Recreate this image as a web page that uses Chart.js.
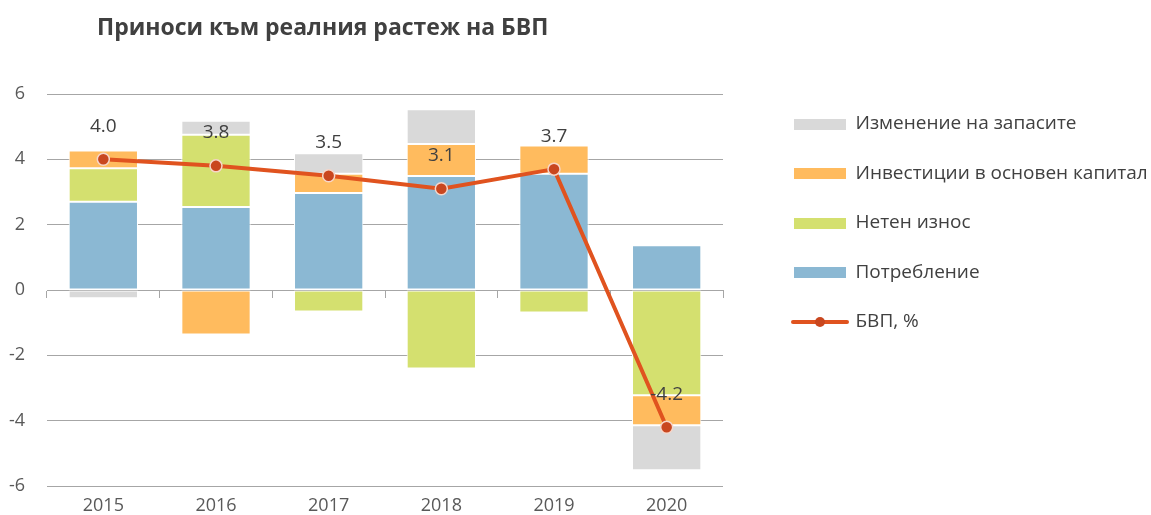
<!DOCTYPE html>
<html>
<head>
<meta charset="utf-8">
<script src="https://cdn.jsdelivr.net/npm/chart.js@4"></script>
<style>
  html, body { margin: 0; padding: 0; background: #ffffff; }
  #wrap { position: relative; width: 1151px; height: 515px; }
  #title {
    position: absolute; left: 97px; top: 10px;
    font-family: "Open Sans", sans-serif; font-weight: bold; font-size: 23px;
    line-height: 32px; color: #404040; white-space: nowrap;
  }
  canvas { position: absolute; left: 0; top: 0; }
</style>
</head>
<body>
<div id="wrap">
  <canvas id="c" width="1151" height="515"></canvas>
  <div id="title">Приноси към реалния растеж на БВП</div>
</div>
<script>
const years = ['2015', '2016', '2017', '2018', '2019', '2020'];
const consumption = [2.70, 2.54, 2.97, 3.49, 3.56, 1.37];
const netExports = [1.03, 2.21, -0.66, -2.40, -0.69, -3.22];
const investment = [0.54, -1.36, 0.59, 0.98, 0.86, -0.92];
const inventories = [-0.25, 0.43, 0.63, 1.06, 0, -1.38];
const gdp = [4.0, 3.8, 3.5, 3.1, 3.7, -4.2];
const yTicks = [-6, -4, -2, 0, 2, 4, 6];

const seriesNames = {
  consumption: 'Потребление',
  netExports: 'Нетен износ',
  investment: 'Инвестиции в основен капитал',
  inventories: 'Изменение на запасите',
  gdp: 'БВП, %'
};
const colors = {
  consumption: '#8BB8D3',
  netExports: '#D4E06F',
  investment: '#FFBB5E',
  inventories: '#D9D9D9',
  line: '#E0531F',
  marker: '#C9471F',
  markerBorder: '#F6D6C9'
};

const FONT = '"Open Sans", sans-serif';
const LEGEND_SIZE = 19;
const LEGEND_PAD = 30.5;
const LEGEND_BOX_X = 794;

function rectIcon(color) {
  const cv = document.createElement('canvas');
  cv.width = 52; cv.height = 11;
  const g = cv.getContext('2d');
  g.fillStyle = color; g.fillRect(0, 0, 52, 11);
  return cv;
}
function lineIcon() {
  const cv = document.createElement('canvas');
  cv.width = 60; cv.height = 14;
  const g = cv.getContext('2d');
  g.strokeStyle = colors.line; g.lineWidth = 4; g.lineCap = 'round';
  g.beginPath(); g.moveTo(3, 7); g.lineTo(57, 7); g.stroke();
  g.fillStyle = colors.marker;
  g.beginPath(); g.arc(30, 7, 5, 0, Math.PI * 2); g.fill();
  return cv;
}

const legendOrder = [
  {key: 'inventories', ds: 3},
  {key: 'investment', ds: 2},
  {key: 'netExports', ds: 1},
  {key: 'consumption', ds: 0},
  {key: 'gdp', ds: 4}
];

// size the legend so its first column begins at x = LEGEND_BOX_X
const mctx = document.createElement('canvas').getContext('2d');
mctx.font = 'normal ' + LEGEND_SIZE + 'px ' + FONT;
let maxText = 0;
legendOrder.forEach(it => { maxText = Math.max(maxText, mctx.measureText(seriesNames[it.key]).width); });
const legendLeft = LEGEND_BOX_X - LEGEND_PAD;
const legendNatural = LEGEND_PAD + 52 + LEGEND_SIZE / 2 + maxText + 10;
const legendMax = Math.min(legendNatural, 1151 - legendLeft);
const padRight = Math.max(0, 1151 - legendLeft - legendMax);

const chart = new Chart(document.getElementById('c'), {
  data: {
    labels: years,
    datasets: [
      {type: 'bar', label: seriesNames.consumption, data: consumption, backgroundColor: colors.consumption, order: 1},
      {type: 'bar', label: seriesNames.netExports, data: netExports, backgroundColor: colors.netExports, order: 1},
      {type: 'bar', label: seriesNames.investment, data: investment, backgroundColor: colors.investment, order: 1},
      {type: 'bar', label: seriesNames.inventories, data: inventories, backgroundColor: colors.inventories, order: 1},
      {type: 'line', label: seriesNames.gdp, data: gdp, borderColor: colors.line, borderWidth: 4,
       pointRadius: 6, pointHoverRadius: 6, pointBackgroundColor: colors.marker,
       pointBorderColor: colors.markerBorder, pointBorderWidth: 1.5, tension: 0, order: 0}
    ]
  },
  options: {
    responsive: false,
    animation: false,
    devicePixelRatio: 1,
    datasets: {
      bar: { barPercentage: 0.615, categoryPercentage: 1, borderColor: '#ffffff', borderWidth: 1, borderSkipped: false }
    },
    layout: { padding: { left: 0, right: padRight, top: 94, bottom: 0 } },
    scales: {
      x: {
        stacked: true,
        grid: { display: false, drawTicks: false },
        border: { display: false },
        ticks: { color: '#595959', font: { family: FONT, size: 18 }, padding: 9 },
        afterFit: s => { s.height = 29; }
      },
      xz: {
        type: 'category',
        position: { y: 0 },
        offset: true,
        grid: { display: true, offset: true, drawOnChartArea: false, drawTicks: true, tickLength: 7, color: '#A6A6A6', lineWidth: 1 },
        border: { display: true, color: '#A6A6A6', width: 1 },
        ticks: { display: false }
      },
      y: {
        stacked: true,
        min: -6, max: 6,
        afterBuildTicks: s => { s.ticks = yTicks.map(v => ({value: v})); },
        grid: { color: '#A6A6A6', lineWidth: 1, drawTicks: false },
        border: { display: false },
        ticks: { color: '#595959', font: { family: FONT, size: 18 }, padding: 22 },
        afterFit: s => { s.width = 47; s.paddingTop = 11; s.paddingBottom = 11; }
      },
      gap: {
        type: 'linear',
        position: 'right',
        display: true,
        grid: { display: false, drawTicks: false },
        border: { display: false },
        ticks: { display: false },
        afterFit: s => { s.width = legendLeft - 723; }
      }
    },
    plugins: {
      title: { display: false },
      tooltip: { enabled: false },
      legend: {
        display: true,
        position: 'right',
        align: 'start',
        fullSize: true,
        maxWidth: legendMax,
        title: { display: true, text: ' ', padding: { top: 0, bottom: -22 }, font: { size: 10, lineHeight: 1.2 } },
        labels: {
          usePointStyle: true,
          pointStyleWidth: 52,
          padding: LEGEND_PAD,
          color: '#404040',
          font: { family: FONT, size: LEGEND_SIZE },
          generateLabels: (ch) => legendOrder.map(it => ({
            text: seriesNames[it.key],
            fillStyle: it.key === 'gdp' ? colors.line : colors[it.key],
            strokeStyle: 'rgba(0,0,0,0)',
            lineWidth: 0,
            pointStyle: it.key === 'gdp' ? lineIcon() : rectIcon(colors[it.key]),
            hidden: !ch.isDatasetVisible(it.ds),
            datasetIndex: it.ds,
            fontColor: '#404040'
          }))
        }
      }
    }
  },
  plugins: [{
    id: 'lineValueLabels',
    afterDatasetsDraw(ch) {
      const meta = ch.getDatasetMeta(4);
      const ctx = ch.ctx;
      ctx.save();
      ctx.font = '19px ' + FONT;
      ctx.fillStyle = '#404040';
      ctx.textAlign = 'center';
      ctx.textBaseline = 'middle';
      meta.data.forEach((pt, i) => {
        ctx.fillText(gdp[i].toFixed(1), pt.x, pt.y - 33);
      });
      ctx.restore();
    }
  }]
});
</script>
</body>
</html>
